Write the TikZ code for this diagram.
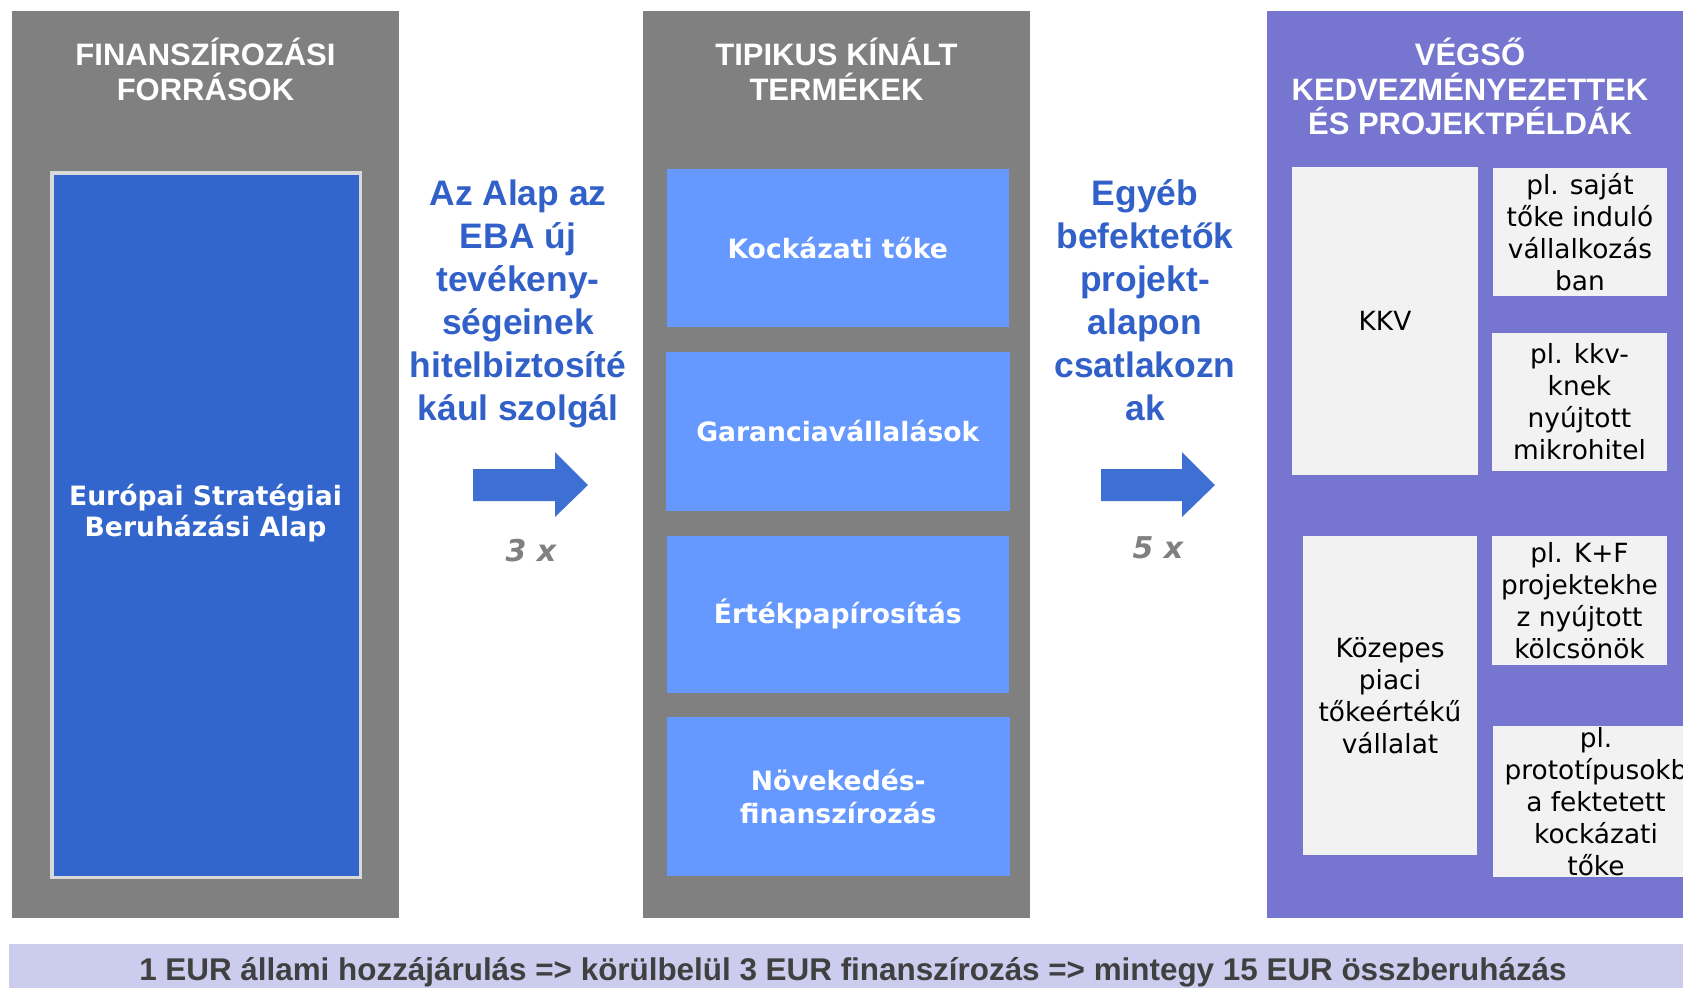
\documentclass[tikz,border=0pt]{standalone}
\usepackage{fontspec}
\setmainfont{Liberation Sans}
\newfontfamily\vfont{DejaVu Sans}
\usetikzlibrary{fit}
\definecolor{panelgrey}{RGB}{128,128,128}
\definecolor{purplepanel}{RGB}{118,118,208}
\definecolor{lightbox}{RGB}{242,242,242}
\definecolor{prodblue}{RGB}{102,153,255}
\definecolor{esabblue}{RGB}{51,102,204}
\definecolor{bordergrey}{RGB}{217,217,217}
\definecolor{txtblue}{RGB}{48,96,200}
\definecolor{arrowblue}{RGB}{61,112,210}
\definecolor{bandcol}{RGB}{204,204,238}
\definecolor{bandtext}{RGB}{64,64,64}
\definecolor{xgrey}{RGB}{128,128,128}
\tikzset{
 area/.style={inner sep=0pt, draw=none},
 hdr/.style={anchor=north, align=center, inner sep=0pt, text=white, font=\bfseries\fontsize{15.5}{17.1}\selectfont},
 bluetxt/.style={anchor=north, align=center, inner sep=0pt, text=txtblue, font=\bfseries\fontsize{17.7}{21.5}\selectfont},
 prod/.style={fill=prodblue, inner sep=0pt},
 prodtxt/.style={inner sep=0pt, text=white, align=center, font=\vfont\bfseries\fontsize{13.3}{16.5}\selectfont},
 lbox/.style={fill=lightbox, inner sep=0pt},
 ltxt/.style={align=center, inner sep=0pt, text=black, font=\vfont\fontsize{13.2}{16}\selectfont},
 mult/.style={anchor=base, inner sep=0pt, text=xgrey, font=\vfont\bfseries\itshape\fontsize{15}{18}\selectfont},
 barrow/.style={fill=arrowblue, draw=none},
}
\begin{document}
\begin{tikzpicture}[x=0.5pt,y=-0.5pt]
\useasboundingbox (0,0) rectangle (1683,987);
\fill[white] (0,0) rectangle (1683,987);
% panels
\node[area, fill=panelgrey, fit={(12,11)(399,918)}] (p1) {};
\node[area, fill=panelgrey, fit={(643,11)(1030,918)}] (p2) {};
\node[area, fill=purplepanel, fit={(1267,11)(1700,918)}] (p3) {};
% headers
\node[hdr] (h1) at (205.5,38) {FINANSZÍROZÁSI\\FORRÁSOK};
\node[hdr] (h2) at (836.5,38) {TIPIKUS KÍNÁLT\\TERMÉKEK};
\node[hdr] (h3) at (1470,38) {VÉGSŐ\\KEDVEZMÉNYEZETTEK\\ÉS PROJEKTPÉLDÁK};
% left box
\node[fit={(51.75,172.75)(360.25,877.25)}, inner sep=0pt, fill=esabblue, draw=bordergrey, line width=1.75pt] (esab) {};
\node[inner sep=0pt, align=center, text=white, font=\vfont\bfseries\fontsize{13.3}{15.6}\selectfont] (esabt) at (205.5,513) {Európai Stratégiai\\Beruházási Alap};
% middle products
\node[prod, fit={(666.5,168.5)(1009,327)}] (k1) {};
\node[prodtxt] (k1t) at (k1.center) {Kockázati tőke};
\node[prod, fit={(665.5,352)(1010,511)}] (k2) {};
\node[prodtxt] (k2t) at (k2.center) {Garanciavállalások};
\node[prod, fit={(666.5,535.5)(1009,693)}] (k3) {};
\node[prodtxt] (k3t) at (k3.center) {Értékpapírosítás};
\node[prod, fit={(666.5,717)(1010,876)}] (k4) {};
\node[prodtxt] (k4t) at (k4.center) {Növekedés-\\finanszírozás};
% blue texts
\node[bluetxt] (t1) at (518,179) {Az Alap az\\EBA új\\tevékeny-\\ségeinek\\hitelbiztosíté\\kául szolgál};
\node[bluetxt] (t2) at (1145,179) {Egyéb\\befektetők\\projekt-\\alapon\\csatlakozn\\ak};
% block arrows
\fill[barrow] (473,469) -- (555,469) -- (555,452) -- (588,485) -- (555,517) -- (555,501) -- (473,501) -- cycle;
\fill[barrow] (1101,469) -- (1182,469) -- (1182,452) -- (1215,485) -- (1182,517) -- (1182,501) -- (1101,501) -- cycle;
\node[mult] (m1) at (531,561) {3 x};
\node[mult] (m2) at (1158,558) {5 x};
% right boxes
\node[lbox, fit={(1292,167)(1478,475)}] (kkv) {};
\node[ltxt] (kkvt) at (kkv.center) {KKV};
\node[lbox, fit={(1493,168)(1667,296)}] (r1) {};
\node[ltxt] (r1t) at (r1.center) {pl. saját\\tőke induló\\vállalkozás\\ban};
\node[lbox, fit={(1492,333)(1667,471)}] (r2) {};
\node[ltxt] (r2t) at (r2.center) {pl. kkv-\\knek\\nyújtott\\mikrohitel};
\node[lbox, fit={(1303,536)(1477,855)}] (mid) {};
\node[ltxt] (midt) at (mid.center) {Közepes\\piaci\\tőkeértékű\\vállalat};
\node[lbox, fit={(1492,536)(1667,665)}] (r3) {};
\node[ltxt] (r3t) at (r3.center) {pl. K+F\\projektekhe\\z nyújtott\\kölcsönök};
\node[lbox, fit={(1493,726)(1699,877)}] (r4) {};
\node[ltxt] (r4t) at (1596,801.5) {pl.\\prototípusokb\\a fektetett\\kockázati\\tőke};
% bottom band
\node[area, fill=bandcol, fit={(9,944)(1700,990)}] (band) {};
\node[anchor=base, inner sep=0pt, text=bandtext, font=\bfseries\fontsize{15.7}{18}\selectfont] (bandt) at (853,980) {1 EUR állami hozzájárulás => körülbelül 3 EUR finanszírozás => mintegy 15 EUR összberuházás};
\end{tikzpicture}
\end{document}
